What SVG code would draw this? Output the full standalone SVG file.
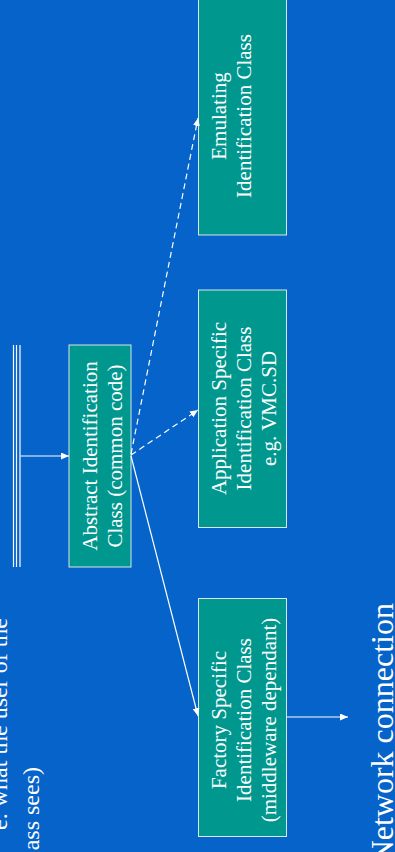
<svg xmlns="http://www.w3.org/2000/svg" width="395" height="852" viewBox="0 0 395 852">
<defs>
<style>
.bg{fill:#0563C9}
.box{fill:#00978F;stroke:#D8E8E8;stroke-width:1}
.t{font-family:"Liberation Serif","Times New Roman",serif;font-size:21px;fill:#FFFFFF;text-anchor:middle}
.big{font-family:"Liberation Serif","Times New Roman",serif;fill:#FFFFFF;text-anchor:end}
.ln{stroke:#FFFFFF;stroke-width:1.2;fill:none}
.dash{stroke-dasharray:6 4}
</style>
<marker id="ah" markerUnits="userSpaceOnUse" markerWidth="9" markerHeight="7" refX="8" refY="3.5" orient="auto">
<path d="M0,0 L8,3.5 L0,7 Z" fill="#FFFFFF"/>
</marker>
</defs>
<rect class="bg" x="0" y="0" width="395" height="852"/>

<g id="caption">
<text class="big" font-size="24" transform="translate(7,618) rotate(-90)">e. what the user of the</text>
<text class="big" font-size="24" transform="translate(39,767) rotate(-90)">ass sees)</text>
</g>

<g id="interface-bar">
<line class="ln" x1="13.5" y1="345" x2="13.5" y2="567"/>
<line class="ln" x1="16.5" y1="345" x2="16.5" y2="567"/>
<line class="ln" x1="20" y1="345" x2="20" y2="567"/>
</g>

<g id="abstract">
<rect class="box" x="69" y="345" width="62" height="222"/>
<text class="t" transform="translate(96.5,456) rotate(-90)">Abstract Identification</text>
<text class="t" transform="translate(121.5,456) rotate(-90)">Class (common code)</text>
</g>

<g id="emulating">
<rect class="box" x="198.5" y="-3" width="88" height="238"/>
<text class="t" transform="translate(225.7,116) rotate(-90)">Emulating</text>
<text class="t" transform="translate(250.7,116) rotate(-90)">Identification Class</text>
</g>

<g id="application">
<rect class="box" x="198.5" y="290" width="88" height="237.5"/>
<text class="t" transform="translate(225.7,408.5) rotate(-90)">Application Specific</text>
<text class="t" transform="translate(250.7,408.5) rotate(-90)">Identification Class</text>
<text class="t" transform="translate(275.7,408.5) rotate(-90)">e.g. VMC.SD</text>
</g>

<g id="factory">
<rect class="box" x="198.5" y="598.5" width="88" height="238"/>
<text class="t" transform="translate(225.7,720) rotate(-90)">Factory Specific</text>
<text class="t" transform="translate(250.7,720) rotate(-90)">Identification Class</text>
<text class="t" transform="translate(275.5,720) rotate(-90)">(middleware dependant)</text>
</g>

<g id="network">
<text class="big" font-size="32" transform="translate(393,603) rotate(-90)">Network connection</text>
</g>

<g id="connectors">
<line class="ln" x1="20.5" y1="456" x2="69" y2="456" marker-end="url(#ah)"/>
<line class="ln" x1="131" y1="456" x2="198" y2="716" marker-end="url(#ah)"/>
<line class="ln dash" x1="131" y1="455" x2="198" y2="410" marker-end="url(#ah)"/>
<line class="ln dash" x1="131" y1="454" x2="198" y2="118" marker-end="url(#ah)"/>
<line class="ln" x1="286.5" y1="717" x2="348" y2="717" marker-end="url(#ah)"/>
</g>
</svg>
